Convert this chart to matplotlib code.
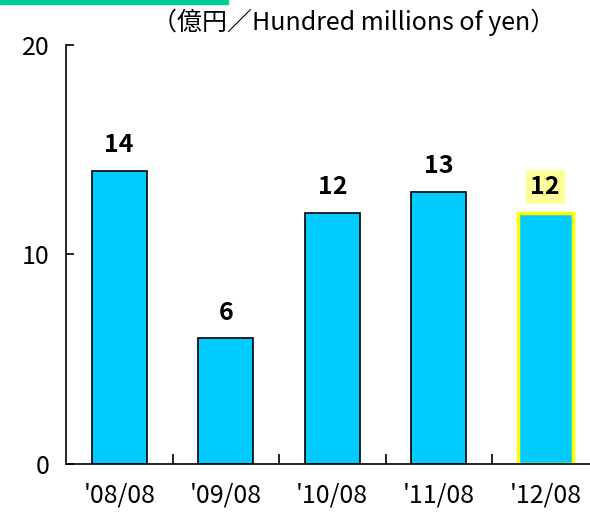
import matplotlib.pyplot as plt
from matplotlib.patches import Rectangle

plt.rcParams['font.family'] = ['Noto Sans CJK JP', 'DejaVu Sans']

periods = ["'08/08", "'09/08", "'10/08", "'11/08", "'12/08"]
values = [14, 6, 12, 13, 12]
yticks = [0, 10, 20]
unit_label = "（億円／Hundred millions of yen）"

fig = plt.figure(figsize=(5.9, 5.13), dpi=100)
ax = fig.add_axes([66 / 590, 1 - 464 / 513, 532.5 / 590, 419 / 513])

x = list(range(len(values)))
bars = ax.bar(x, values, width=0.52, color="#00CCFF", edgecolor="black", linewidth=1.2)
# highlight the latest period
bars[-1].set_edgecolor("#FFFF00")
bars[-1].set_linewidth(2.5)

for i, v in enumerate(values):
    if i == len(values) - 1:
        ax.text(i, v + 0.65, str(v), ha="center", va="bottom", fontsize=18, fontweight="bold",
                bbox=dict(boxstyle="square,pad=0.2", fc="#FFFF99", ec="none"))
    else:
        ax.text(i, v + 0.65, str(v), ha="center", va="bottom", fontsize=18, fontweight="bold")

ax.set_xlim(-0.5, 4.5)
ax.set_ylim(0, 20)
ax.set_yticks(yticks)
ax.set_xticks(x)
ax.set_xticklabels(periods, fontsize=18)
ax.tick_params(axis="x", which="major", length=0, pad=13)
ax.set_xticks([i + 0.5 for i in x[:-1]], minor=True)
ax.tick_params(axis="x", which="minor", direction="in", length=7, width=1.2)
ax.tick_params(axis="y", direction="in", length=6, width=1.2, labelsize=18, pad=12)
for s in ["top", "right"]:
    ax.spines[s].set_visible(False)
for s in ["left", "bottom"]:
    ax.spines[s].set_linewidth(1.2)

fig.text(354 / 590, 1 - 22 / 513, unit_label, ha="center", va="center", fontsize=18)
fig.patches.append(Rectangle((0, 1 - 4 / 513), 228 / 590, 4 / 513, transform=fig.transFigure,
                             color="#00CC99", zorder=5))

fig.savefig("out.png", dpi=100)
